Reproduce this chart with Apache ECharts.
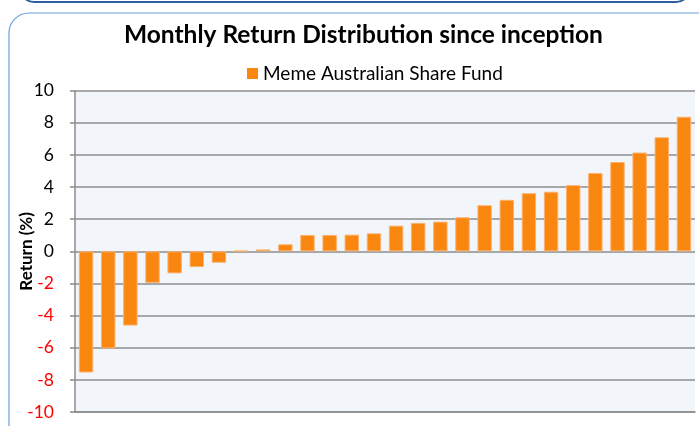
<!DOCTYPE html>
<html><head><meta charset="utf-8">
<script src="https://cdn.jsdelivr.net/npm/echarts@6/dist/echarts.min.js"></script>
<style>html,body{margin:0;padding:0;background:#fff}#c{width:699px;height:426px}</style>
</head><body><div id="c"></div>
<script>
var titleText = 'Monthly Return Distribution since inception';
var seriesName = 'Meme Australian Share Fund';
var yAxisName = 'Return (%)';
var categories = ['1','2','3','4','5','6','7','8','9','10','11','12','13','14','15','16','17','18','19','20','21','22','23','24','25','26','27','28'];
var returns = [-7.54,-6.04,-4.62,-1.96,-1.37,-0.98,-0.71,0.03,0.12,0.44,1.02,1.02,1.04,1.12,1.6,1.77,1.85,2.12,2.87,3.21,3.62,3.71,4.12,4.87,5.56,6.15,7.1,8.38];
var yTicks = {min:-10, max:10, interval:2};

var chart = echarts.init(document.getElementById('c'), null, {renderer:'canvas'});
var FONT = 'Lato';
chart.setOption({
  animation:false,
  backgroundColor:'#ffffff',
  graphic:[
    {type:'rect', shape:{x:20, y:-40, width:670, height:42, r:14}, style:{fill:'none', stroke:'#2E5E9E', lineWidth:2}, z:-1},
    {type:'rect', shape:{x:9, y:13, width:720, height:440, r:20}, style:{fill:'none', stroke:'#6A9FD8', lineWidth:1.2}, z:-1}
  ],
  title:{text:titleText, left:119, top:18, textStyle:{fontFamily:FONT, fontWeight:'bold', fontSize:24.5, color:'#000'}},
  legend:{data:[seriesName], top:59, left:242, itemWidth:11, itemHeight:11, itemGap:5, icon:'rect',
    itemStyle:{borderWidth:0},
    textStyle:{fontFamily:FONT, fontSize:19, color:'#000'}},
  grid:{left:75, right:4, top:90.7, bottom:14, show:true, backgroundColor:'#F2F6FB', borderWidth:0, outerBoundsMode:'none', containLabel:false},
  xAxis:{type:'category', data:categories, axisTick:{show:false}, axisLabel:{show:false},
    axisLine:{show:true, onZero:false, lineStyle:{color:'#8c8c8c', width:1.5}}, splitLine:{show:false}},
  yAxis:{type:'value', min:yTicks.min, max:yTicks.max, interval:yTicks.interval,
    name:yAxisName, nameLocation:'middle', nameGap:40, nameRotate:90, nameMoveOverlap:false,
    nameTextStyle:{fontFamily:FONT, fontWeight:'bold', fontSize:17, color:'#000'},
    axisLine:{show:true, lineStyle:{color:'#8c8c8c', width:1.5}},
    axisTick:{show:true, length:5, lineStyle:{color:'#8c8c8c', width:1.5}},
    axisLabel:{margin:21, fontFamily:FONT, fontSize:17.5, color:function(v){return v<0?'#FF0000':'#000000';}},
    splitLine:{show:true, lineStyle:{color:'#8c8c8c', width:1.5}}},
  series:[{name:seriesName, type:'bar', data:returns, barWidth:'65%',
    itemStyle:{color:'#F9860F', borderColor:'#FBB06A', borderWidth:1}}]
});
</script></body></html>
